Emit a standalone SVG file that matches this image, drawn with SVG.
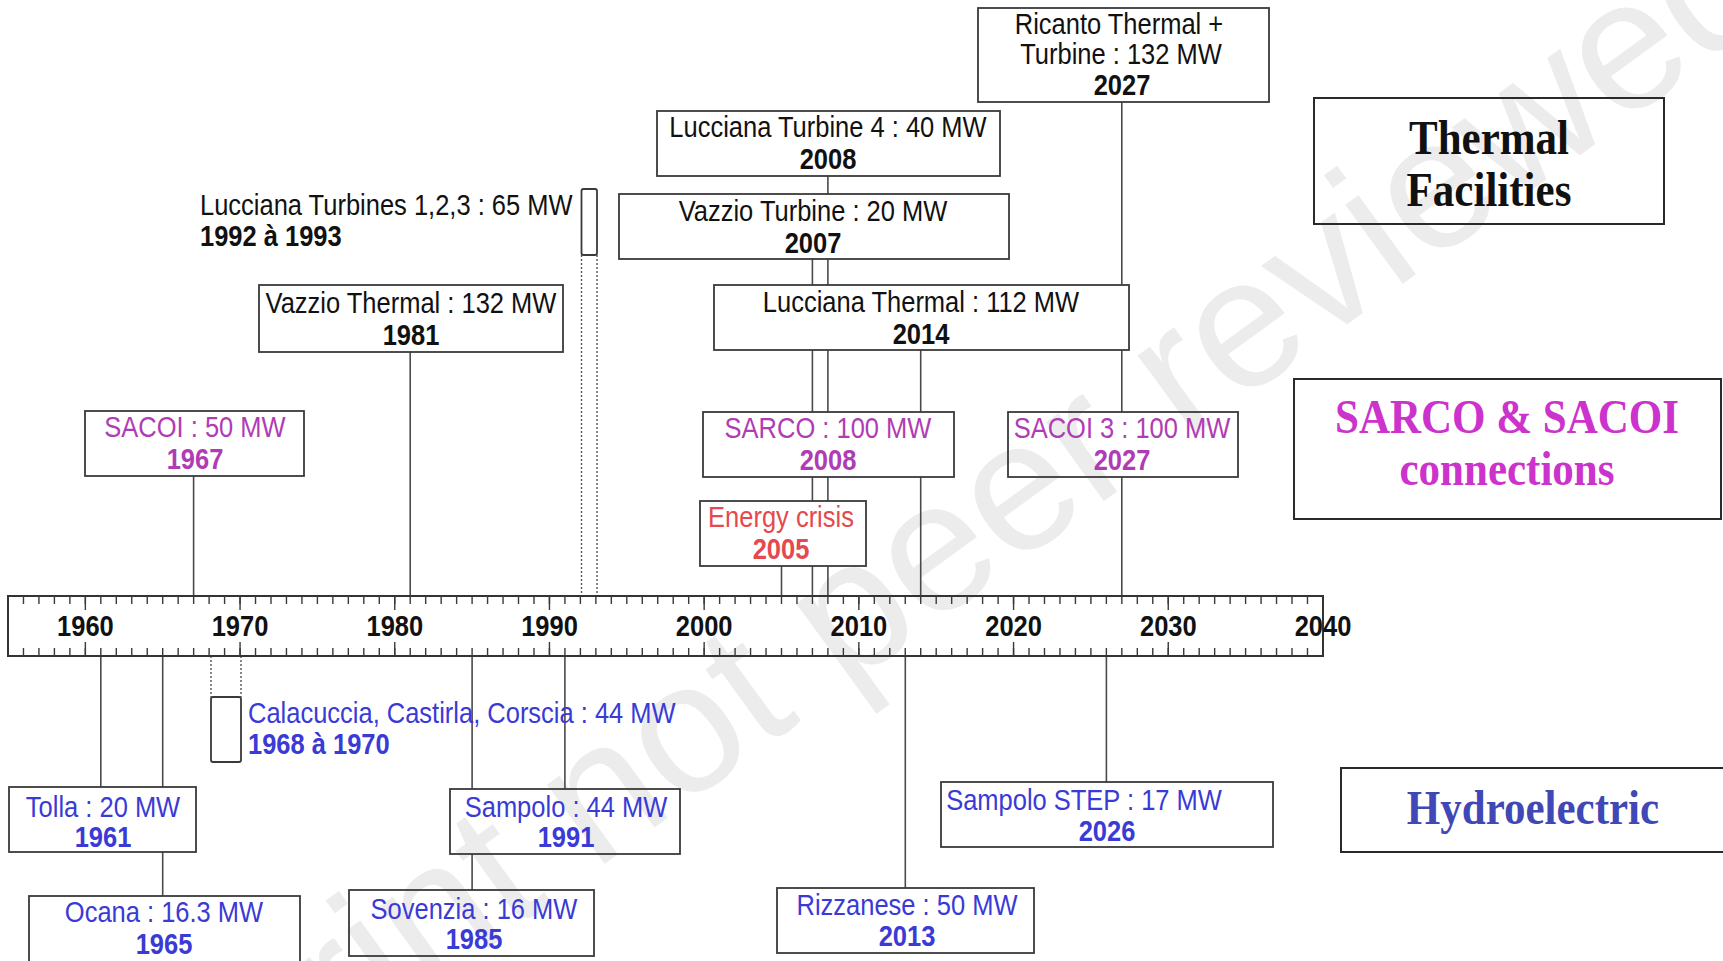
<svg xmlns="http://www.w3.org/2000/svg" width="1723" height="961" viewBox="0 0 1723 961">
<defs>
<style>
.box{fill:none;stroke:#3a3a3a;stroke-width:1.8}
.tbox{fill:none;stroke:#2a2a2a;stroke-width:2}
.ln{stroke:#4a4a4a;stroke-width:1.6;fill:none}
.dot{stroke:#555;stroke-width:1.4;stroke-dasharray:2 2;fill:none}
.tick{stroke:#3a3a3a;stroke-width:1.4;fill:none}
.tk{stroke:#3a3a3a;stroke-width:8;stroke-dasharray:1.4 14.07;fill:none}
.n text{font-family:"Liberation Sans",Arial,sans-serif;font-size:25.5px;text-anchor:middle;transform-box:fill-box;transform-origin:50% 50%;transform:scaleY(1.13)}
.n text.ti{font-family:"Liberation Serif","Times New Roman",serif;font-weight:bold;font-size:43px}
.n text.l{text-anchor:start}
.b{font-weight:bold}
.k{fill:#111}
.m{fill:#b03cb5}
.r{fill:#e5484d}
.h{fill:#3a3ad6}
.tm{fill:#cc33cc}
.th{fill:#3f48b5}
.wm{font-family:"Liberation Sans",Arial,sans-serif;font-size:185px;fill:#ececec;text-anchor:middle}
</style>
</defs>
<rect x="0" y="0" width="1723" height="961" fill="#ffffff"/>
<g id="watermark" transform="translate(868,592) rotate(-36)">
<text class="wm" x="0" y="65">Preprint not peer reviewed</text>
</g>

<g id="connectors">
<line class="ln" x1="100.8" y1="656" x2="100.8" y2="787"/>
<line class="ln" x1="162.7" y1="656" x2="162.7" y2="787"/>
<line class="ln" x1="162.7" y1="852" x2="162.7" y2="896"/>
<line class="dot" x1="211" y1="656" x2="211" y2="697"/>
<line class="dot" x1="241" y1="656" x2="241" y2="697"/>
<line class="ln" x1="472.1" y1="656" x2="472.1" y2="789"/>
<line class="ln" x1="472.1" y1="854" x2="472.1" y2="890"/>
<line class="ln" x1="564.9" y1="656" x2="564.9" y2="789"/>
<line class="ln" x1="905.3" y1="656" x2="905.3" y2="888"/>
<line class="ln" x1="1106.4" y1="656" x2="1106.4" y2="782"/>
<line class="ln" x1="193.6" y1="476" x2="193.6" y2="596"/>
<line class="ln" x1="410.2" y1="352" x2="410.2" y2="596"/>
<line class="dot" x1="581.5" y1="255" x2="581.5" y2="596"/>
<line class="dot" x1="597" y1="255" x2="597" y2="596"/>
<line class="ln" x1="781.5" y1="566" x2="781.5" y2="596"/>
<line class="ln" x1="827.9" y1="176" x2="827.9" y2="194"/>
<line class="ln" x1="812.4" y1="259" x2="812.4" y2="285"/>
<line class="ln" x1="827.9" y1="259" x2="827.9" y2="285"/>
<line class="ln" x1="812.4" y1="350" x2="812.4" y2="412"/>
<line class="ln" x1="827.9" y1="350" x2="827.9" y2="412"/>
<line class="ln" x1="812.4" y1="477" x2="812.4" y2="501"/>
<line class="ln" x1="827.9" y1="477" x2="827.9" y2="501"/>
<line class="ln" x1="812.4" y1="566" x2="812.4" y2="596"/>
<line class="ln" x1="827.9" y1="566" x2="827.9" y2="596"/>
<line class="ln" x1="920.7" y1="350" x2="920.7" y2="412"/>
<line class="ln" x1="920.7" y1="477" x2="920.7" y2="596"/>
<line class="ln" x1="1121.8" y1="102" x2="1121.8" y2="285"/>
<line class="ln" x1="1121.8" y1="350" x2="1121.8" y2="412"/>
<line class="ln" x1="1121.8" y1="477" x2="1121.8" y2="596"/>
</g>

<g id="timeline" class="n">
<rect x="8" y="596" width="1315" height="60" fill="none" stroke="#333" stroke-width="2"/>
<line class="tk" x1="22.77" y1="600" x2="1310" y2="600"/>
<line class="tk" x1="22.77" y1="652" x2="1310" y2="652"/>
<path class="tick" d="M85.35 596v14M240.05 596v14M394.75 596v14M549.45 596v14M704.15 596v14M858.85 596v14M1013.55 596v14M1168.25 596v14M85.35 656v-14M240.05 656v-14M394.75 656v-14M549.45 656v-14M704.15 656v-14M858.85 656v-14M1013.55 656v-14M1168.25 656v-14"/>
<text class="b k" x="85.4" y="635">1960</text>
<text class="b k" x="240" y="635">1970</text>
<text class="b k" x="394.8" y="635">1980</text>
<text class="b k" x="549.5" y="635">1990</text>
<text class="b k" x="704.2" y="635">2000</text>
<text class="b k" x="858.9" y="635">2010</text>
<text class="b k" x="1013.6" y="635">2020</text>
<text class="b k" x="1168.3" y="635">2030</text>
<text class="b k" x="1323" y="635">2040</text>
</g>

<g id="ricanto" class="n">
<rect class="box" x="978" y="8" width="291" height="94"/>
<text class="k" x="1119" y="33">Ricanto Thermal +</text>
<text class="k" x="1121" y="63">Turbine : 132 MW</text>
<text class="b k" x="1122" y="94">2027</text>
</g>
<g id="lucciana-turbine4" class="n">
<rect class="box" x="657" y="111" width="343" height="65"/>
<text class="k" x="828" y="136">Lucciana Turbine 4 : 40 MW</text>
<text class="b k" x="828" y="168">2008</text>
</g>
<g id="vazzio-turbine" class="n">
<rect class="box" x="619" y="194" width="390" height="65"/>
<text class="k" x="813" y="220">Vazzio Turbine : 20 MW</text>
<text class="b k" x="813" y="252">2007</text>
</g>
<g id="lucciana-thermal" class="n">
<rect class="box" x="714" y="285" width="415" height="65"/>
<text class="k" x="921" y="311">Lucciana Thermal : 112 MW</text>
<text class="b k" x="921" y="343">2014</text>
</g>
<g id="vazzio-thermal" class="n">
<rect class="box" x="259" y="285" width="304" height="67"/>
<text class="k" x="411" y="312">Vazzio Thermal : 132 MW</text>
<text class="b k" x="411" y="344">1981</text>
</g>
<g id="lucciana-turbines123" class="n">
<rect class="box" x="581.5" y="189" width="15.5" height="66" rx="2"/>
<text class="l k" x="200" y="214">Lucciana Turbines 1,2,3 : 65 MW</text>
<text class="l b k" x="200" y="245">1992 à 1993</text>
</g>
<g id="sacoi" class="n">
<rect class="box" x="85" y="411" width="219" height="65"/>
<text class="m" x="195" y="436">SACOI : 50 MW</text>
<text class="b m" x="195" y="468">1967</text>
</g>
<g id="sarco" class="n">
<rect class="box" x="703" y="412" width="251" height="65"/>
<text class="m" x="828" y="437">SARCO : 100 MW</text>
<text class="b m" x="828" y="469">2008</text>
</g>
<g id="sacoi3" class="n">
<rect class="box" x="1008" y="412" width="230" height="65"/>
<text class="m" x="1122" y="437">SACOI 3 : 100 MW</text>
<text class="b m" x="1122" y="469">2027</text>
</g>
<g id="energy-crisis" class="n">
<rect class="box" x="700" y="501" width="166" height="65"/>
<text class="r" x="781" y="526">Energy crisis</text>
<text class="b r" x="781" y="558">2005</text>
</g>
<g id="tolla" class="n">
<rect class="box" x="9" y="787" width="187" height="65"/>
<text class="h" x="103" y="816">Tolla : 20 MW</text>
<text class="b h" x="103" y="846">1961</text>
</g>
<g id="ocana" class="n">
<rect class="box" x="29" y="896" width="271" height="66"/>
<text class="h" x="164" y="921">Ocana : 16.3 MW</text>
<text class="b h" x="164" y="953">1965</text>
</g>
<g id="calacuccia" class="n">
<rect class="box" x="211" y="697" width="30" height="65" rx="2"/>
<text class="l h" x="248" y="722">Calacuccia, Castirla, Corscia : 44 MW</text>
<text class="l b h" x="248" y="753">1968 à 1970</text>
</g>
<g id="sampolo" class="n">
<rect class="box" x="450" y="789" width="230" height="65"/>
<text class="h" x="566" y="816">Sampolo : 44 MW</text>
<text class="b h" x="566" y="846">1991</text>
</g>
<g id="sovenzia" class="n">
<rect class="box" x="349" y="890" width="245" height="66"/>
<text class="h" x="474" y="918">Sovenzia : 16 MW</text>
<text class="b h" x="474" y="948">1985</text>
</g>
<g id="rizzanese" class="n">
<rect class="box" x="777" y="888" width="257" height="65"/>
<text class="h" x="907" y="914">Rizzanese : 50 MW</text>
<text class="b h" x="907" y="945">2013</text>
</g>
<g id="sampolo-step" class="n">
<rect class="box" x="941" y="782" width="332" height="65"/>
<text class="h" x="1084" y="809">Sampolo STEP : 17 MW</text>
<text class="b h" x="1107" y="840">2026</text>
</g>

<g id="legend-thermal" class="n">
<rect class="tbox" x="1314" y="98" width="350" height="126"/>
<text class="ti k" x="1489" y="152">Thermal</text>
<text class="ti k" x="1489" y="204">Facilities</text>
</g>
<g id="legend-connections" class="n">
<rect class="tbox" x="1294" y="379" width="427" height="140"/>
<text class="ti tm" x="1507" y="431">SARCO &amp; SACOI</text>
<text class="ti tm" x="1507" y="483">connections</text>
</g>
<g id="legend-hydro" class="n">
<rect class="tbox" x="1341" y="768" width="400" height="84"/>
<text class="ti th" x="1533" y="822">Hydroelectric</text>
</g>
</svg>
